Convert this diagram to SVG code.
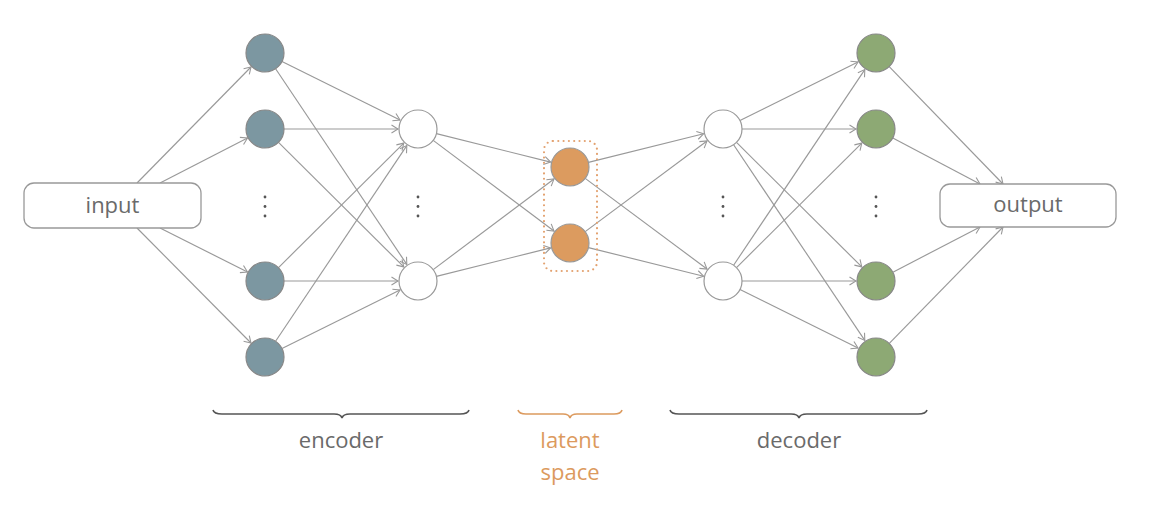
<svg xmlns="http://www.w3.org/2000/svg" width="1163" height="505" viewBox="0 0 1163 505">
<style>
.txt{font-family:"Open Sans","Noto Sans","DejaVu Sans",sans-serif;font-size:22px;fill:#6a6a6a;text-anchor:middle}
.lat{fill:#DC9A5E}
.box{fill:#fff;stroke:#999;stroke-width:1.3}
.enc{fill:#7C97A1;stroke:#888;stroke-width:1.2}
.hid{fill:#fff;stroke:#999;stroke-width:1.2}
.lnode{fill:#DC9B5F;stroke:#999;stroke-width:1.2}
.out{fill:#8DA974;stroke:#888;stroke-width:1.2}
.edge{stroke:#999;stroke-width:1.15;fill:none;marker-end:url(#arr)}
.dot{fill:#555}
.brace{fill:none;stroke:#555;stroke-width:1.6}
</style>
<defs>
<marker id="arr" viewBox="-8 -5 9 10" refX="0" refY="0" markerWidth="9" markerHeight="10" markerUnits="userSpaceOnUse" orient="auto">
<path d="M-6.5,-4 L0,0 L-6.5,4" fill="none" stroke="#999" stroke-width="1.1"/>
</marker>
</defs>
<rect width="1163" height="505" fill="#fff"/>
<g id="connectors">
<line class="edge" x1="137" y1="183" x2="251" y2="67"/>
<line class="edge" x1="160" y1="183" x2="247.5" y2="138"/>
<line class="edge" x1="160" y1="228" x2="247.5" y2="272"/>
<line class="edge" x1="137" y1="228" x2="251" y2="343"/>
<line class="edge" x1="282" y1="61.5" x2="400" y2="120"/>
<line class="edge" x1="275.6" y1="68.8" x2="406.8" y2="264.4"/>
<line class="edge" x1="284" y1="129" x2="398" y2="129"/>
<line class="edge" x1="278.5" y1="142.4" x2="403.8" y2="266.9"/>
<line class="edge" x1="278.5" y1="267.6" x2="403.8" y2="143.1"/>
<line class="edge" x1="284" y1="281" x2="398" y2="281"/>
<line class="edge" x1="275.6" y1="341.2" x2="406.8" y2="145.6"/>
<line class="edge" x1="282" y1="348.5" x2="400" y2="290"/>
<line class="edge" x1="436.4" y1="133.6" x2="550.6" y2="162.1"/>
<line class="edge" x1="433.2" y1="140.4" x2="554" y2="231"/>
<line class="edge" x1="433.2" y1="269.6" x2="554" y2="179"/>
<line class="edge" x1="436.4" y1="276.4" x2="550.6" y2="247.9"/>
<line class="edge" x1="588.4" y1="162.4" x2="703.6" y2="133.8"/>
<line class="edge" x1="585.2" y1="178.4" x2="707" y2="269"/>
<line class="edge" x1="585.2" y1="231.6" x2="707" y2="141"/>
<line class="edge" x1="588.4" y1="247.6" x2="703.6" y2="276.2"/>
<line class="edge" x1="740" y1="120.5" x2="858" y2="62"/>
<line class="edge" x1="742" y1="129" x2="856" y2="129"/>
<line class="edge" x1="736.5" y1="142.4" x2="861.8" y2="266.9"/>
<line class="edge" x1="733.6" y1="144.8" x2="864.8" y2="340.4"/>
<line class="edge" x1="733.6" y1="265.2" x2="864.8" y2="69.6"/>
<line class="edge" x1="736.5" y1="267.6" x2="861.8" y2="143.1"/>
<line class="edge" x1="742" y1="281" x2="856" y2="281"/>
<line class="edge" x1="740" y1="289.5" x2="858" y2="348"/>
<line class="edge" x1="889.2" y1="66.6" x2="1003" y2="184"/>
<line class="edge" x1="892.8" y1="137.9" x2="980" y2="184"/>
<line class="edge" x1="892.9" y1="272.2" x2="980" y2="227"/>
<line class="edge" x1="889.3" y1="343.4" x2="1003" y2="227"/>
</g>
<g id="input">
<rect class="box" x="24" y="183" width="177" height="45" rx="10"/>
<text class="txt" x="112.5" y="212.5">input</text>
</g>
<g id="output">
<rect class="box" x="940" y="184" width="176" height="43" rx="10"/>
<text class="txt" x="1028" y="211.5">output</text>
</g>
<g id="latent-box">
<rect x="544" y="141" width="53" height="130" rx="9" fill="none" stroke="#E3A270" stroke-width="2.2" stroke-dasharray="0 5.3" stroke-linecap="round"/>
</g>
<g id="enc1"><circle class="enc" cx="265" cy="53" r="19"/></g>
<g id="enc2"><circle class="enc" cx="265" cy="129" r="19"/></g>
<g id="enc3"><circle class="enc" cx="265" cy="281" r="19"/></g>
<g id="enc4"><circle class="enc" cx="265" cy="357" r="19"/></g>
<g id="hid1"><circle class="hid" cx="418" cy="129" r="19"/></g>
<g id="hid2"><circle class="hid" cx="418" cy="281" r="19"/></g>
<g id="lat1"><circle class="lnode" cx="570" cy="167" r="19"/></g>
<g id="lat2"><circle class="lnode" cx="570" cy="243" r="19"/></g>
<g id="dec1"><circle class="hid" cx="723" cy="129" r="19"/></g>
<g id="dec2"><circle class="hid" cx="723" cy="281" r="19"/></g>
<g id="out1"><circle class="out" cx="876" cy="53" r="19"/></g>
<g id="out2"><circle class="out" cx="876" cy="129" r="19"/></g>
<g id="out3"><circle class="out" cx="876" cy="281" r="19"/></g>
<g id="out4"><circle class="out" cx="876" cy="357" r="19"/></g>
<g id="dots">
<circle class="dot" cx="265" cy="197" r="1.4"/><circle class="dot" cx="265" cy="206.5" r="1.4"/><circle class="dot" cx="265" cy="216" r="1.4"/>
<circle class="dot" cx="418" cy="197" r="1.4"/><circle class="dot" cx="418" cy="206.5" r="1.4"/><circle class="dot" cx="418" cy="216" r="1.4"/>
<circle class="dot" cx="723" cy="197" r="1.4"/><circle class="dot" cx="723" cy="206.5" r="1.4"/><circle class="dot" cx="723" cy="216" r="1.4"/>
<circle class="dot" cx="876" cy="197" r="1.4"/><circle class="dot" cx="876" cy="206.5" r="1.4"/><circle class="dot" cx="876" cy="216" r="1.4"/>
</g>
<g id="encoder-label">
<path class="brace" d="M213,410 Q214,414 222,414 L334,414 Q341,414 342,418 Q343,414 350,414 L460,414 Q468,414 469,410"/>
<text class="txt" x="341" y="448">encoder</text>
</g>
<g id="latent-label">
<path class="brace" style="stroke:#DC9A5E" d="M518,410 Q519,414 526,414 L563,414 Q569,414 570,418 Q571,414 577,414 L614,414 Q621,414 622,410"/>
<text class="txt lat" x="570" y="448">latent</text>
<text class="txt lat" x="570" y="480">space</text>
</g>
<g id="decoder-label">
<path class="brace" d="M670,410 Q671,414 679,414 L791,414 Q798,414 799,418 Q800,414 807,414 L918,414 Q926,414 927,410"/>
<text class="txt" x="799" y="448">decoder</text>
</g>
</svg>
